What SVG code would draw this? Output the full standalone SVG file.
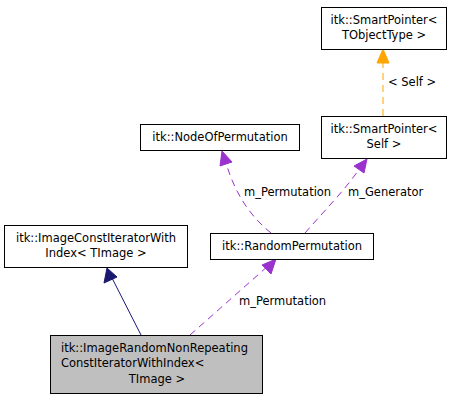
<svg xmlns="http://www.w3.org/2000/svg" width="451" height="400" viewBox="0 0 451 400">
<style>
text{font-family:"DejaVu Sans","Liberation Sans",sans-serif;font-size:11.5px;fill:#000}
.box{fill:#fff;stroke:#000;stroke-width:1}
.main{fill:#bfbfbf;stroke:#000;stroke-width:1}
.purple{stroke:#9a32cd;fill:none;stroke-dasharray:7,5}
.orange{stroke:#ffa500;fill:none;stroke-dasharray:7,5}
.navy{stroke:#191970;fill:none}
</style>
<rect width="451" height="400" fill="#fff"/>
<g id="connectors">
<path class="navy" d="M141,335 L112,278"/>
<polygon points="107,268 104,283 117,277" fill="#191970" stroke="#191970"/>
<path class="purple" d="M190,335 L268,266"/>
<polygon points="276,259 262,265 271,274" fill="#9a32cd" stroke="#9a32cd"/>
<text x="239" y="305">m_Permutation</text>
<path class="purple" d="M271,233 C255,220 237,200 226,163"/>
<polygon points="222,151 220,166 232,162" fill="#9a32cd" stroke="#9a32cd"/>
<text x="244" y="196">m_Permutation</text>
<path class="purple" d="M305,233 C325,210 345,190 360,168"/>
<polygon points="367,159 354,166 364,173" fill="#9a32cd" stroke="#9a32cd"/>
<text x="348" y="196">m_Generator</text>
<path class="orange" d="M383,116 L383,62"/>
<polygon points="383,49 377,63 389,63" fill="#ffa500" stroke="#ffa500"/>
<text x="388" y="86">&lt; Self &gt;</text>
</g>
<g id="node_main">
<rect class="main" x="50.5" y="335.5" width="212" height="58"/>
<text x="61" y="352">itk::ImageRandomNonRepeating</text>
<text x="61" y="367">ConstIteratorWithIndex&lt;</text>
<text x="157" y="383" text-anchor="middle">TImage &gt;</text>
</g>
<g id="node_imageconst">
<rect class="box" x="4.5" y="225.5" width="183" height="42"/>
<text x="96" y="242" text-anchor="middle">itk::ImageConstIteratorWith</text>
<text x="96" y="257" text-anchor="middle">Index&lt; TImage &gt;</text>
</g>
<g id="node_randperm">
<rect class="box" x="210.5" y="233.5" width="163" height="26"/>
<text x="292" y="250" text-anchor="middle">itk::RandomPermutation</text>
</g>
<g id="node_nodeofperm">
<rect class="box" x="140.5" y="124.5" width="159" height="26"/>
<text x="220" y="141" text-anchor="middle">itk::NodeOfPermutation</text>
</g>
<g id="node_sp_self">
<rect class="box" x="321.5" y="116.5" width="125" height="42"/>
<text x="384" y="133" text-anchor="middle">itk::SmartPointer&lt;</text>
<text x="384" y="148" text-anchor="middle">Self &gt;</text>
</g>
<g id="node_sp_tobj">
<rect class="box" x="321.5" y="7.5" width="125" height="42"/>
<text x="384" y="24" text-anchor="middle">itk::SmartPointer&lt;</text>
<text x="384" y="39" text-anchor="middle">TObjectType &gt;</text>
</g>
</svg>
